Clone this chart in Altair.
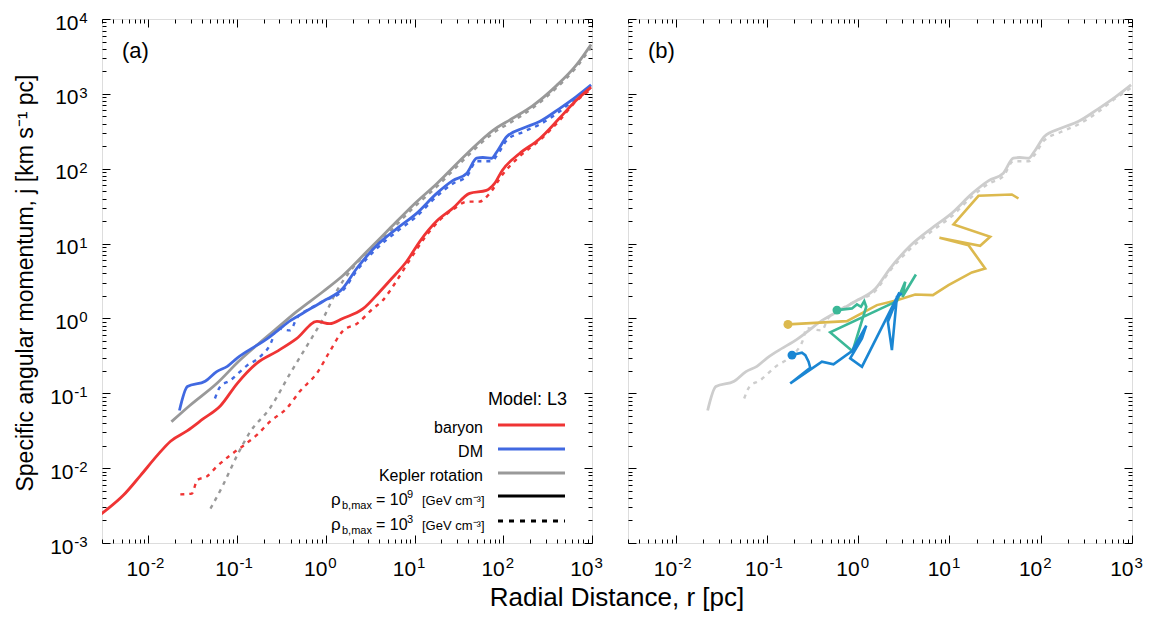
import altair as alt
import pandas as pd

FONT = "Liberation Sans"

# ---------------- panel (a): values as log10 r [pc], log10 j ----------------
baryon_hi_logr = [-2.53, -2.28, -2.09, -1.90, -1.75, -1.56, -1.38, -1.19, -1.00, -0.78, -0.55, -0.33, -0.10,
                  0.045, 0.19, 0.42, 0.61, 0.74, 0.91, 1.06, 1.25, 1.43, 1.62, 1.81, 1.90, 1.99, 2.18, 2.41,
                  2.63, 2.82, 2.99]
baryon_hi_logj = [-2.61, -2.36, -2.10, -1.83, -1.64, -1.50, -1.34, -1.17, -0.87, -0.60, -0.44, -0.27, -0.04,
                  -0.07, 0.0, 0.13, 0.36, 0.53, 0.76, 1.03, 1.30, 1.47, 1.67, 1.71, 1.80, 1.98, 2.20, 2.40,
                  2.67, 2.91, 3.09]

baryon_lo_logr = [-1.64, -1.51, -1.45, -1.34, -1.23, -1.08, -0.93, -0.78, -0.63, -0.44, -0.29, -0.10, 0.045,
                  0.19, 0.35, 0.53, 0.64, 0.78, 0.94, 1.11, 1.28, 1.45, 1.59, 1.73, 1.84, 1.99, 2.18, 2.41,
                  2.63, 2.82, 2.99]
baryon_lo_logj = [-2.35, -2.34, -2.16, -2.11, -1.98, -1.83, -1.70, -1.56, -1.38, -1.20, -0.97, -0.73, -0.44,
                  -0.17, -0.07, 0.13, 0.24, 0.47, 0.77, 1.07, 1.31, 1.47, 1.56, 1.56, 1.66, 1.92, 2.16, 2.38,
                  2.64, 2.90, 3.06]

dm_hi_logr = [-1.65, -1.56, -1.36, -1.23, -1.11, -1.00, -0.89, -0.66, -0.55, -0.40, -0.26, -0.03, 0.19, 0.35,
              0.57, 0.80, 1.02, 1.25, 1.43, 1.59, 1.70, 1.77, 1.87, 1.93, 2.04, 2.22, 2.41, 2.63, 2.82, 2.99]
dm_hi_logj = [-1.23, -0.91, -0.84, -0.71, -0.64, -0.53, -0.44, -0.27, -0.17, -0.03, 0.07, 0.23, 0.40, 0.67,
              0.97, 1.20, 1.40, 1.67, 1.84, 1.94, 2.14, 2.15, 2.14, 2.23, 2.43, 2.54, 2.63, 2.80, 2.96, 3.12]

dm_lo_logr = [-1.25, -1.19, -1.08, -0.89, -0.74, -0.60, -0.57, -0.40, -0.33, -0.18, -0.03, 0.19, 0.35, 0.57,
              0.80, 1.02, 1.25, 1.43, 1.59, 1.70, 1.87, 1.93, 2.04, 2.22, 2.41, 2.63, 2.82, 2.99]
dm_lo_logj = [-1.07, -0.91, -0.83, -0.63, -0.51, -0.27, -0.13, -0.16, 0.0, 0.13, 0.23, 0.37, 0.64, 0.93,
              1.16, 1.36, 1.63, 1.80, 1.90, 2.10, 2.10, 2.18, 2.38, 2.49, 2.59, 2.76, 2.94, 3.08]

kepler_hi_logr = [-1.74, -1.53, -1.23, -0.97, -0.71, -0.55, -0.33, -0.03, 0.19, 0.46, 0.72, 0.98, 1.25, 1.59,
                  1.88, 2.10, 2.33, 2.60, 2.82, 2.99]
kepler_hi_logj = [-1.38, -1.16, -0.87, -0.56, -0.29, -0.13, 0.09, 0.36, 0.57, 0.89, 1.20, 1.51, 1.80, 2.20,
                  2.51, 2.67, 2.84, 3.11, 3.38, 3.66]

kepler_lo_logr = [-1.30, -1.16, -1.00, -0.85, -0.63, -0.40, -0.21, -0.03, 0.12, 0.30, 0.49, 0.72, 0.98, 1.25,
                  1.59, 1.88, 2.10, 2.33, 2.60, 2.82, 2.99]
kepler_lo_logj = [-2.54, -2.23, -1.83, -1.51, -1.20, -0.73, -0.36, 0.0, 0.36, 0.67, 0.91, 1.16, 1.47, 1.76,
                  2.16, 2.47, 2.63, 2.81, 3.08, 3.35, 3.62]

# ---------------- panel (b): trajectories ----------------
gold_logr = [-0.770, -0.124, 0.205, 0.424, 0.624, 0.818, 0.989, 1.245, 1.391, 1.208, 0.890, 1.336, 1.446,
             1.044, 1.318, 1.683, 1.756]
gold_logj = [-0.080, -0.036, 0.178, 0.244, 0.320, 0.311, 0.445, 0.614, 0.668, 0.979, 1.077, 0.971, 1.091,
             1.255, 1.638, 1.656, 1.602]

teal_logr = [-0.233, -0.069, -0.014, 0.030, 0.066, 0.088, -0.062, -0.307, 0.424, 0.515, 0.485, 0.632]
teal_logj = [0.111, 0.134, 0.187, 0.156, 0.231, 0.156, -0.437, -0.187, 0.231, 0.490, 0.290, 0.587]

blue_logr = [-0.726, -0.617, -0.580, -0.544, -0.526, -0.745, -0.398, -0.271, -0.069, 0.088, 0.041, -0.088,
             0.041, 0.452, 0.325, 0.369, 0.424, 0.479]
blue_logj = [-0.490, -0.458, -0.490, -0.578, -0.658, -0.868, -0.578, -0.614, -0.437, -0.097, -0.267, -0.534,
             -0.645, 0.347, -0.044, -0.423, 0.290, 0.334]

# ---------------- axes / text ----------------
x_major = [1e-2, 1e-1, 1.0, 10.0, 100.0, 1000.0]
x_tick_exp = ["-2", "-1", "0", "1", "2", "3"]
y_major = [1e-3, 1e-2, 1e-1, 1.0, 10.0, 100.0, 1000.0, 10000.0]
y_tick_exp = ["-3", "-2", "-1", "0", "1", "2", "3", "4"]
tick_base = "10"
x_minor = [round(k * 10.0 ** e, 6) for e in range(-3, 3) for k in range(2, 10) if 0.003 <= k * 10.0 ** e <= 1000]
y_minor = [round(k * 10.0 ** e, 6) for e in range(-3, 4) for k in range(2, 10)]

x_title = "Radial Distance, r [pc]"
y_title = "Specific angular momentum, j [km s⁻¹ pc]"
panel_labels = ["(a)", "(b)"]
legend_title = "Model: L3"
legend_labels = ["baryon", "DM", "Kepler rotation"]
rho_exponents = ["9", "3"]

RED, BLUE, GRAY = "#ef3434", "#4169e1", "#999999"
LIGHT = "#cdcdcd"
GOLD, TEAL, TBLUE = "#dcb94e", "#3bb897", "#1a86d3"

XS = alt.Scale(type="log", domain=[0.003, 1000])
YS = alt.Scale(type="log", domain=[0.001, 10000])


def table(logr, logj):
    return pd.DataFrame({"i": list(range(len(logr))),
                         "r": [10 ** v for v in logr],
                         "j": [10 ** v for v in logj]})


def lab_expr(values, labels):
    expr = f"'{labels[-1]}'"
    for v0, v1, lab in reversed(list(zip(values[:-1], values[1:], labels[:-1]))):
        expr = f"datum.value < {(v0 * v1) ** 0.5} ? '{lab}' : {expr}"
    return expr


def line(df, color, width=2.8, dash=None, interp="monotone"):
    kw = dict(color=color, strokeWidth=width, clip=True, interpolate=interp)
    if dash:
        kw["strokeDash"] = dash
    return alt.Chart(df).mark_line(**kw).encode(
        x=alt.X("r:Q", scale=XS, axis=None),
        y=alt.Y("j:Q", scale=YS, axis=None),
        order="i:Q")


def dot(df, color):
    return alt.Chart(df.iloc[:1]).mark_circle(color=color, size=80, opacity=1).encode(
        x=alt.X("r:Q", scale=XS, axis=None),
        y=alt.Y("j:Q", scale=YS, axis=None))


def tick_axis(orient, vals, size):
    # inward ticks: the axis line is moved inside by `size`, ticks point back to the frame
    return alt.Axis(orient=orient, values=vals, labels=False, domain=False, grid=False, ticks=True,
                    tickSize=size, offset=-size, tickColor="black", tickWidth=1, title=None)


def label_axis(orient, vals, labels, size, align, pad, shift):
    return alt.Axis(orient=orient, values=vals, labelExpr=lab_expr(vals, labels), ticks=False,
                    domain=False, grid=False, labelPadding=pad, labelFontSize=size, labelFont=FONT,
                    labelColor="black", labelAlign=align, labelOffset=shift, labelFlush=False,
                    labelOverlap=False, title=None)


def axis_layer(df, xaxis, yaxis):
    return alt.Chart(df).mark_point(opacity=0).encode(
        x=alt.X("r:Q", scale=XS, axis=xaxis),
        y=alt.Y("j:Q", scale=YS, axis=yaxis))


x_axes = [
    tick_axis("bottom", x_major, 8), tick_axis("bottom", x_minor, 4),
    tick_axis("top", x_major, 8), tick_axis("top", x_minor, 4),
    label_axis("bottom", x_major, [tick_base] * len(x_major), 21, "right", 15, 1),
    label_axis("bottom", x_major, x_tick_exp, 15, "left", 12, 2),
]
y_ticks = [
    tick_axis("left", y_major, 8), tick_axis("left", y_minor, 4),
    tick_axis("right", y_major, 8), tick_axis("right", y_minor, 4),
]
y_labels = [
    label_axis("left", y_major[:3], [tick_base] * 3, 21, "right", 29, 4),
    label_axis("left", y_major[3:], [tick_base] * 5, 21, "right", 24, 4),
    label_axis("left", y_major, y_tick_exp, 15, "right", 15, -1.5),
]


def text_layer(txt, x, y, size, align="left", baseline="alphabetic", angle=0):
    kw = dict(align=align, baseline=baseline, fontSize=size, font=FONT, color="black")
    if angle:
        kw["angle"] = angle
    return alt.Chart(pd.DataFrame({"t": [txt]})).mark_text(**kw).encode(
        text="t:N", x=alt.value(x), y=alt.value(y))


def rule_layer(label, color, ly, dash=None):
    kw = dict(color=color, strokeWidth=3)
    if dash:
        kw["strokeDash"] = dash
    return alt.Chart(pd.DataFrame({"t": [label]})).mark_rule(**kw).encode(
        x=alt.value(396), x2=alt.value(463), y=alt.value(ly))


def panel(layers, width, yaxes, extra):
    ref = table(dm_hi_logr, dm_hi_logj)
    n = max(len(x_axes), len(yaxes))
    axes = [axis_layer(ref, x_axes[k] if k < len(x_axes) else None, yaxes[k] if k < len(yaxes) else None)
            for k in range(n)]
    return alt.layer(*(layers + axes + extra)).resolve_axis(
        x="independent", y="independent").properties(width=width, height=524)


# panel (a)
a_layers = [
    line(table(kepler_lo_logr, kepler_lo_logj), GRAY, 2.4, [4, 5]),
    line(table(dm_lo_logr, dm_lo_logj), BLUE, 2.4, [4, 5]),
    line(table(baryon_lo_logr, baryon_lo_logj), RED, 2.4, [4, 5]),
    line(table(kepler_hi_logr, kepler_hi_logj), GRAY),
    line(table(dm_hi_logr, dm_hi_logj), BLUE),
    line(table(baryon_hi_logr, baryon_hi_logj), RED),
]
extra_a = [text_layer(panel_labels[0], 20, 32, 22, baseline="middle"),
           text_layer(legend_title, 465, 386, 18, align="right"),
           # axis titles shared by both panels
           text_layer(y_title, -69, 264, 23, align="center", angle=270),
           text_layer(x_title, 515, 587, 26, align="center")]
row_y = [406, 430, 454, 477, 502]
for lab, col, ly in zip(legend_labels, [RED, BLUE, GRAY], row_y[:3]):
    extra_a.append(text_layer(lab, 381, ly + 8, 16, align="right"))
    extra_a.append(rule_layer(lab, col, ly))
for expo, ly, dash in zip(rho_exponents, row_y[3:], [None, [5, 6]]):
    base = ly + 9
    extra_a.append(text_layer("ρ", 229, base, 17))
    extra_a.append(text_layer("b,max", 240, base + 4, 11))
    extra_a.append(text_layer("= 10", 274, base, 16))
    extra_a.append(text_layer(expo, 305, base - 7, 11))
    extra_a.append(text_layer("[GeV cm⁻³]", 320, base, 13))
    extra_a.append(rule_layer("rho" + expo, "black", ly, dash))

pa = panel(a_layers, 490, y_ticks + y_labels, extra_a)

# panel (b)
gold, teal, tblue = table(gold_logr, gold_logj), table(teal_logr, teal_logj), table(blue_logr, blue_logj)
b_layers = [
    line(table(dm_lo_logr, dm_lo_logj), LIGHT, 2.4, [4, 5]),
    line(table(dm_hi_logr, dm_hi_logj), LIGHT, 2.8),
    line(gold, GOLD, 2.6, interp="linear"), dot(gold, GOLD),
    line(teal, TEAL, 2.6, interp="linear"), dot(teal, TEAL),
    line(tblue, TBLUE, 2.6, interp="linear"), dot(tblue, TBLUE),
]
pb = panel(b_layers, 504, y_ticks, [text_layer(panel_labels[1], 20, 32, 22, baseline="middle")])

chart = alt.hconcat(pa, pb, spacing=36, bounds="flush").properties(
    padding={"left": 14, "top": 10, "right": 10, "bottom": 2},
).configure_view(stroke="black", strokeWidth=1.6).configure(font=FONT)

chart.save("out.html", embed_options={"renderer": "svg", "actions": False})
